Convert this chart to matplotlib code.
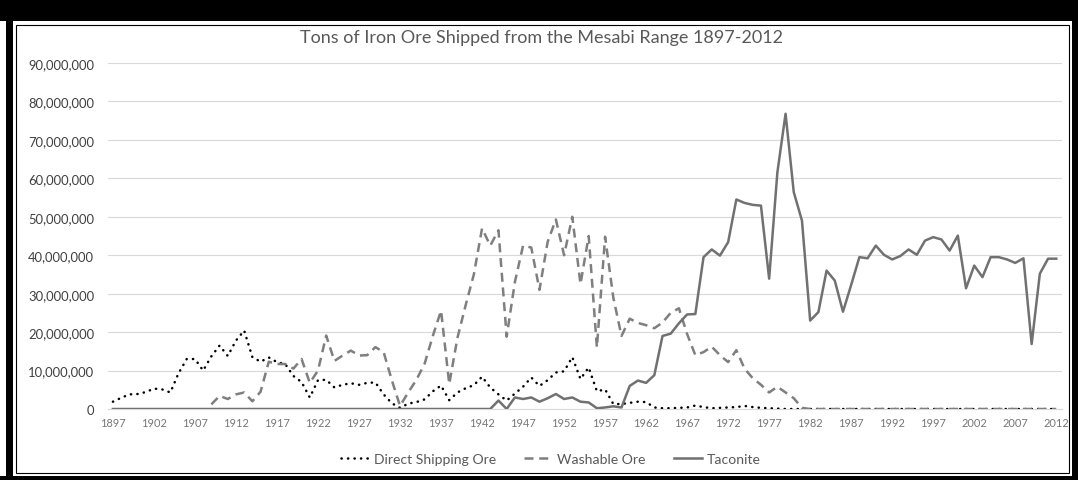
import matplotlib
matplotlib.use("Agg")
import matplotlib.pyplot as plt
from matplotlib.patches import Rectangle
from matplotlib.ticker import FuncFormatter
import numpy as np

# ---------------------------------------------------------------- data (millions of tons)
years = list(range(1897, 2013))
tick_years = list(range(1897, 2013, 5))
y_ticks = list(range(0, 90_000_001, 10_000_000))

direct_shipping = [
    1.9, 2.9, 3.8, 3.9, 4.4, 5.3, 5.1, 4.3, 9.3, 13.0,      # 1897-1906
    13.0, 10.0, 13.7, 16.5, 13.8, 17.8, 20.4, 13.5, 12.3, 13.4,  # 1907-1916
    12.2, 11.7, 8.6, 7.0, 3.0, 7.5, 7.6, 5.6, 6.3, 6.7,      # 1917-1926
    6.3, 6.8, 6.9, 3.8, 1.5, 0.3, 1.4, 1.8, 2.5, 4.6,        # 1927-1936
    6.1, 2.3, 4.3, 5.4, 6.2, 8.4, 5.6, 3.8, 2.2, 4.0,        # 1937-1946
    5.8, 8.2, 6.0, 7.5, 9.5, 9.8, 13.5, 7.8, 10.8, 4.6,      # 1947-1956
    5.1, 1.3, 1.3, 1.6, 1.9, 1.8, 0.4, 0.2, 0.2, 0.3,        # 1957-1966
    0.4, 0.9, 0.5, 0.2, 0.3, 0.4, 0.5, 0.8, 0.5, 0.3,        # 1967-1976
    0.2, 0.1,                                                # 1977-1978
] + [0.0] * 34                                               # 1979-2012

washable = [None] * 12 + [                                   # 1897-1908
    1.2, 3.4, 2.6, 3.8, 4.3, 2.0, 4.5,                       # 1909-1915
    12.3, 11.7, 11.7, 10.5, 13.0, 6.8, 10.0, 19.1, 12.5, 13.9,  # 1916-1925
    15.2, 13.9, 14.0, 16.1, 14.8, 7.5, 0.8, 4.3, 7.6, 11.8,  # 1926-1935
    19.0, 25.6, 6.5, 18.5, 27.0, 35.0, 47.0, 42.5, 46.5, 18.8,  # 1936-1945
    33.0, 42.5, 42.0, 31.0, 43.5, 49.3, 40.0, 50.0, 32.5, 45.0,  # 1946-1955
    16.0, 44.8, 29.0, 19.0, 23.5, 22.4, 21.8, 21.0, 22.5, 25.0,  # 1956-1965
    26.2, 19.5, 14.0, 14.8, 16.2, 14.0, 12.2, 15.3, 10.5, 8.0,   # 1966-1975
    6.3, 4.3, 5.8, 4.3, 2.8, 0.3,                            # 1976-1981
] + [0.0] * 31                                               # 1982-2012

taconite = [0.0] * 47 + [                                    # 1897-1943
    2.2, 0.0, 3.0, 2.6, 3.0, 1.9, 2.8, 3.9, 2.6, 3.0,        # 1944-1953
    1.9, 1.7, 0.2, 0.4, 0.7, 0.4, 6.0, 7.4, 6.8, 8.8,        # 1954-1963
    19.0, 19.6, 22.3, 24.6, 24.7, 39.5, 41.5, 39.9, 43.4, 54.5,  # 1964-1973
    53.6, 53.1, 52.9, 33.9, 61.5, 76.8, 56.4, 49.0, 23.0, 25.2,  # 1974-1983
    36.0, 33.4, 25.3, 32.3, 39.5, 39.2, 42.5, 40.1, 38.9, 39.8,  # 1984-1993
    41.5, 40.1, 43.8, 44.7, 44.1, 41.2, 45.1, 31.4, 37.3, 34.3,  # 1994-2003
    39.5, 39.5, 38.9, 38.0, 39.2, 16.9, 35.2, 39.1, 39.1,        # 2004-2012
]

series_names = ["Direct Shipping Ore", "Washable Ore", "Taconite"]


def tons(values):
    return np.array([np.nan if v is None else v * 1e6 for v in values])


# ---------------------------------------------------------------- figure
W, H = 1078, 481
fig = plt.figure(figsize=(W / 100, H / 100), dpi=100)
fig.patch.set_facecolor("white")
FONT = ["Lato", "DejaVu Sans"]
TEXT_GREY = "#595959"


def fit_size(text, width_px, weight="normal"):
    probe = fig.text(0, 0, text, fontsize=10, family=FONT, weight=weight)
    fig.canvas.draw()
    w = probe.get_window_extent().width
    probe.remove()
    return 10 * width_px / w


def px_rect(x0, y0, x1, y1, **kw):
    # rectangle given in pixel coordinates measured from the top-left corner
    fig.add_artist(Rectangle((x0 / W, 1 - y1 / H), (x1 - x0) / W, (y1 - y0) / H,
                             transform=fig.transFigure, **kw))


ax = fig.add_axes([108 / W, 1 - 410 / H, (1062 - 108) / W, (410 - 64) / H])

lw = 1.8
ax.plot(years, tons(direct_shipping), color="black", lw=lw,
        linestyle=(0, (0.1, 2.5)), dash_capstyle="round",
        label=series_names[0], zorder=3)
ax.plot(years, tons(washable), color="#7f7f7f", lw=lw,
        linestyle=(0, (3.6, 2.3)), label=series_names[1], zorder=4)
ax.plot(years, tons(taconite), color="#717171", lw=lw,
        solid_joinstyle="round", label=series_names[2], zorder=5)

ax.set_xlim(1896.4, 2012.7)
ax.set_ylim(0, 90_000_000)
ax.set_xticks(tick_years)
ax.set_yticks(y_ticks)
ax.yaxis.set_major_formatter(FuncFormatter(lambda v, _: f"{int(v):,}"))
ax.grid(axis="y", color="#d9d9d9", lw=0.8, zorder=0)
ax.set_axisbelow(True)
for side in ("top", "right", "left"):
    ax.spines[side].set_visible(False)
ax.spines["bottom"].set_color("#d9d9d9")
ax.spines["bottom"].set_linewidth(0.8)

ysize = fit_size("90,000,000", 66)
xsize = fit_size("1897", 25.5)
ax.tick_params(axis="y", length=0, pad=10, labelsize=ysize, labelcolor="#404040")
ax.tick_params(axis="x", length=0, pad=6, labelsize=xsize, labelcolor="#767676")
for lab in ax.get_yticklabels() + ax.get_xticklabels():
    lab.set_family(FONT)

title = "Tons of Iron Ore Shipped from the Mesabi Range 1897-2012"
fig.text(542 / W, 1 - 38 / H, title, ha="center", va="center",
         fontsize=fit_size(title, 485), color=TEXT_GREY, family=FONT)

lsize = fit_size("Direct Shipping Ore", 122)
leg = ax.legend(loc="center", bbox_to_anchor=(551 / W, 1 - 460 / H),
                bbox_transform=fig.transFigure, ncol=3, frameon=False,
                prop={"family": FONT, "size": lsize},
                handlelength=28 / (lsize * 1.389), handletextpad=0.35,
                columnspacing=2.0)
for txt in leg.get_texts():
    txt.set_color(TEXT_GREY)

# ---------------------------------------------------------------- frame
px_rect(0, 0, W, 22, color="black", lw=0)
px_rect(6, 0, 13, H, color="black", lw=0)
px_rect(1072, 0, W, H, color="black", lw=0)
px_rect(0, 477, W, H, color="black", lw=0)
px_rect(16, 26, 1069, 474, fill=False, edgecolor="black", lw=0.8)

fig.savefig("out.png", dpi=100, facecolor=fig.get_facecolor())
